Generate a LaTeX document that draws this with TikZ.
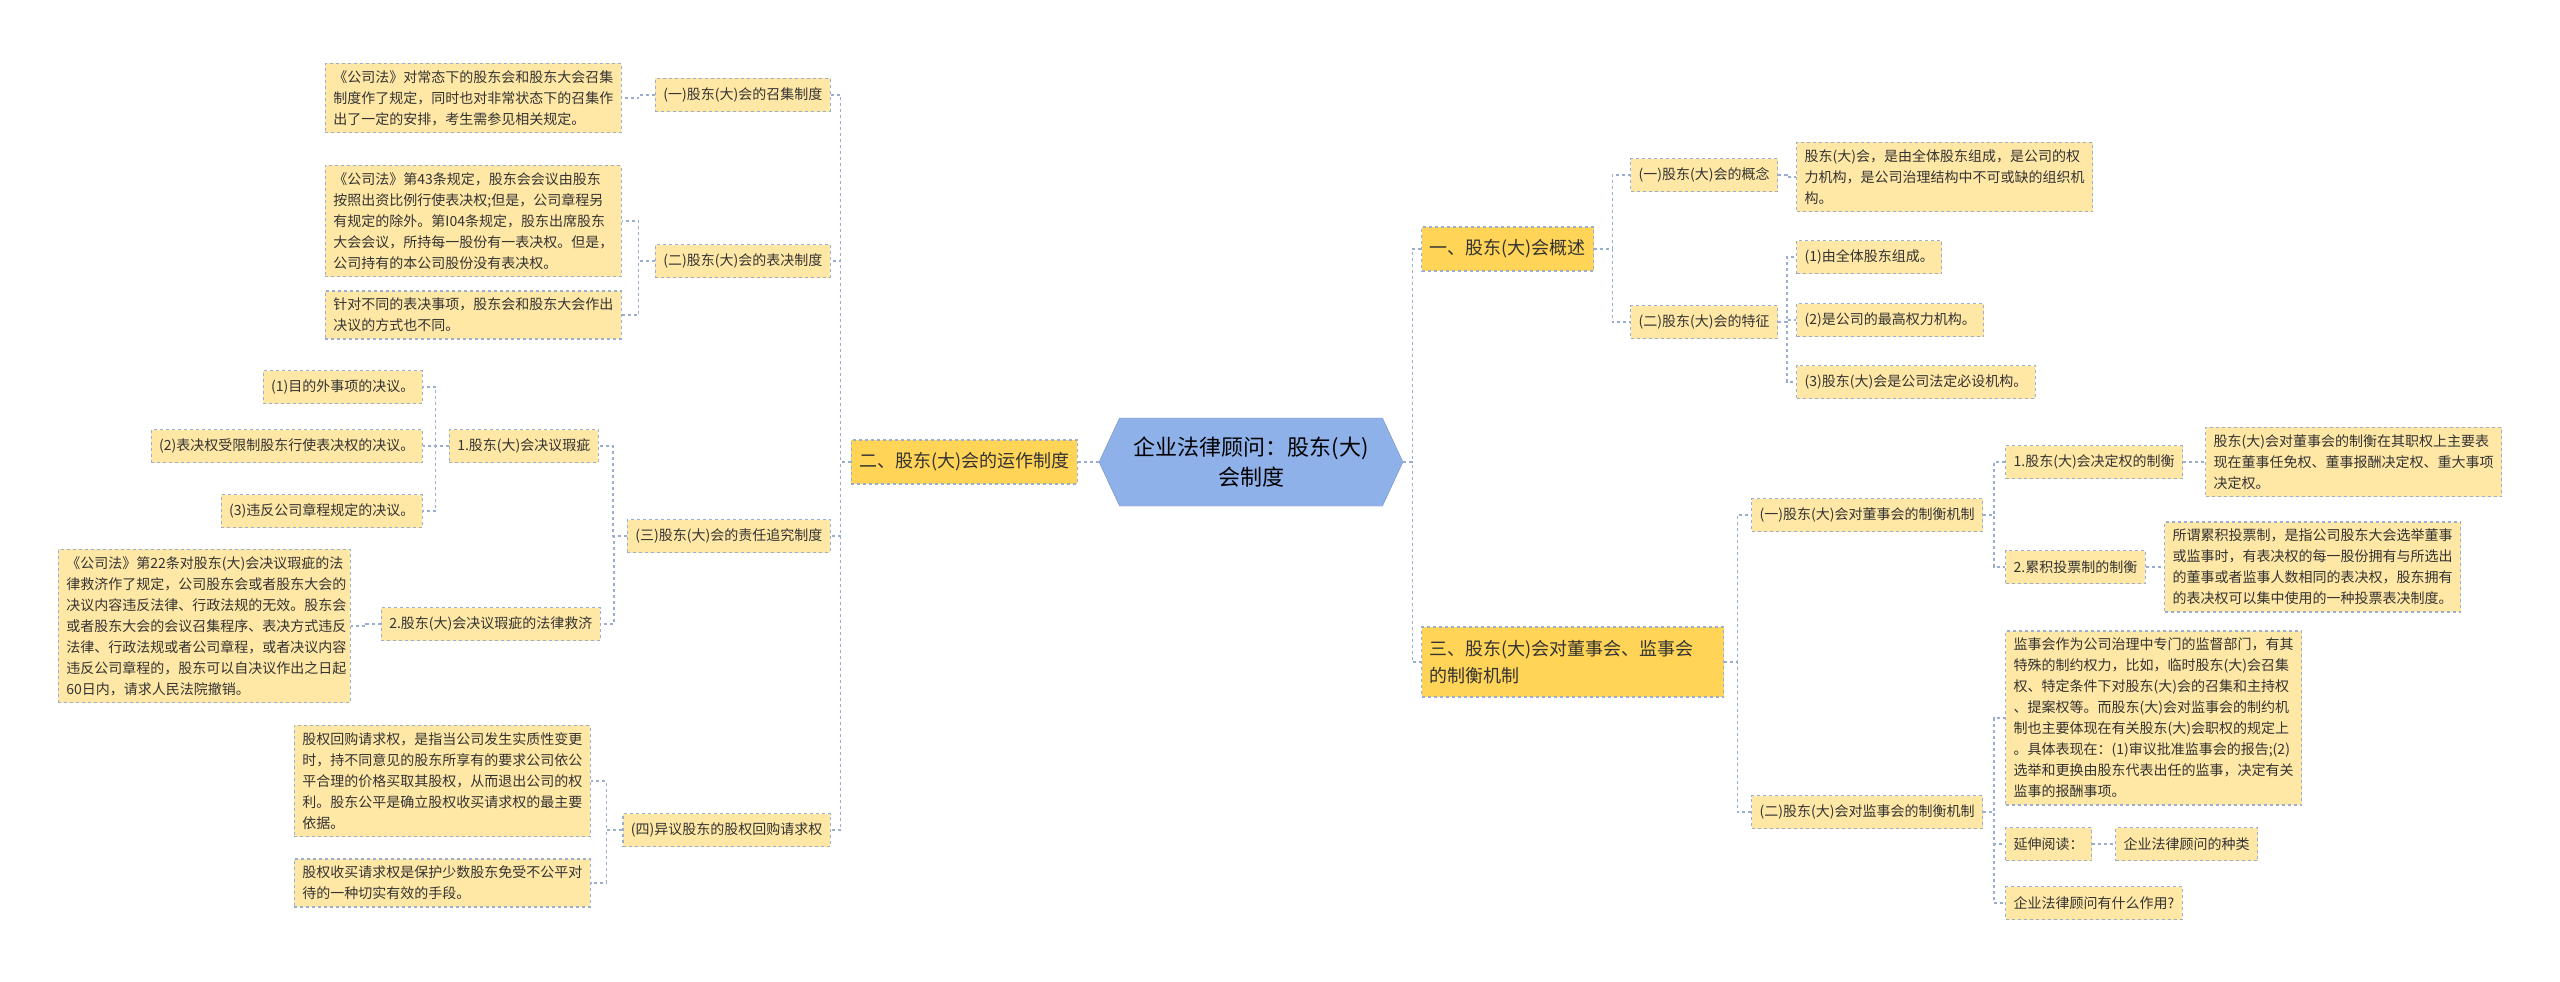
\documentclass[tikz,border=0pt]{standalone}
\usepackage{fontspec}
\setmainfont{Noto Sans CJK SC}
\usetikzlibrary{shapes.symbols,calc}

\definecolor{leafcol}{HTML}{FFE8A6}
\definecolor{topcol}{HTML}{FFD457}
\definecolor{rootcol}{HTML}{8FB1EA}
\definecolor{linecol}{HTML}{9AAECF}

\begin{document}
\begin{tikzpicture}[
    x=1pt, y=-1pt,
    base/.style={draw=linecol, dashed, line width=1.2pt, inner xsep=8pt, inner ysep=7pt, text=black!80},
    leaf/.style={base, fill=leafcol, font=\fontsize{14}{21}\selectfont, align=left, minimum height=33pt},
    topic/.style={base, fill=topcol, font=\fontsize{18}{27}\selectfont, align=left, minimum height=44pt},
    root/.style={shape=signal, signal to=west and east, signal pointer angle=130, draw=rootcol!80!black, fill=rootcol, font=\fontsize{22}{30}\selectfont, align=center, minimum width=300pt, minimum height=88pt, inner xsep=14pt},
    link/.style={draw=linecol, dashed, line width=1.2pt},
    elbow/.style={to path={-- ($(\tikztostart)!0.5!(\tikztostart -| \tikztotarget)$) |- (\tikztotarget)}}
]
    \useasboundingbox (0,0) rectangle (2560,982);

    % Root
    \node[root] (root) at (1251,462) {企业法律顾问：股东(大)\\会制度};

    % Left branch
    \node[topic, anchor=east] (ops) at (1078,462) {二、股东(大)会的运作制度};
    \node[leaf, anchor=east] (call) at (831,95) {(一)股东(大)会的召集制度};
    \node[leaf, anchor=east] (vote) at (831,261) {(二)股东(大)会的表决制度};
    \node[leaf, anchor=east] (duty) at (831,536) {(三)股东(大)会的责任追究制度};
    \node[leaf, anchor=east] (buy) at (831,830) {(四)异议股东的股权回购请求权};

    \node[leaf, anchor=east, text width=280pt] (callT) at (622,98) {《公司法》对常态下的股东会和股东大会召集\\制度作了规定，同时也对非常状态下的召集作\\出了一定的安排，考生需参见相关规定。};
    \node[leaf, anchor=east, text width=280pt] (voteA) at (622,221) {《公司法》第43条规定，股东会会议由股东\\按照出资比例行使表决权;但是，公司章程另\\有规定的除外。第I04条规定，股东出席股东\\大会会议，所持每一股份有一表决权。但是，\\公司持有的本公司股份没有表决权。};
    \node[leaf, anchor=east, text width=280pt] (voteB) at (622,315) {针对不同的表决事项，股东会和股东大会作出\\决议的方式也不同。};

    \node[leaf, anchor=east] (flaw) at (599,446) {1.股东(大)会决议瑕疵};
    \node[leaf, anchor=east] (remedy) at (601,624) {2.股东(大)会决议瑕疵的法律救济};
    \node[leaf, anchor=east] (flawA) at (423,387) {(1)目的外事项的决议。};
    \node[leaf, anchor=east] (flawB) at (423,446) {(2)表决权受限制股东行使表决权的决议。};
    \node[leaf, anchor=east] (flawC) at (423,511) {(3)违反公司章程规定的决议。};
    \node[leaf, anchor=east, text width=276pt] (remedyT) at (351,626) {《公司法》第22条对股东(大)会决议瑕疵的法\\律救济作了规定，公司股东会或者股东大会的\\决议内容违反法律、行政法规的无效。股东会\\或者股东大会的会议召集程序、表决方式违反\\法律、行政法规或者公司章程，或者决议内容\\违反公司章程的，股东可以自决议作出之日起\\60日内，请求人民法院撤销。};
    \node[leaf, anchor=east, text width=280pt] (buyA) at (591,781) {股权回购请求权，是指当公司发生实质性变更\\时，持不同意见的股东所享有的要求公司依公\\平合理的价格买取其股权，从而退出公司的权\\利。股东公平是确立股权收买请求权的最主要\\依据。};
    \node[leaf, anchor=east, text width=280pt] (buyB) at (591,883) {股权收买请求权是保护少数股东免受不公平对\\待的一种切实有效的手段。};

    % Right branch
    \node[topic, anchor=west] (intro) at (1421,249) {一、股东(大)会概述};
    \node[topic, anchor=west, text width=286pt, minimum height=70pt] (check) at (1421,662) {三、股东(大)会对董事会、监事会\\的制衡机制};

    \node[leaf, anchor=west] (concept) at (1630,175) {(一)股东(大)会的概念};
    \node[leaf, anchor=west] (trait) at (1630,322) {(二)股东(大)会的特征};
    \node[leaf, anchor=west, text width=280pt] (conceptT) at (1796,177) {股东(大)会，是由全体股东组成，是公司的权\\力机构，是公司治理结构中不可或缺的组织机\\构。};
    \node[leaf, anchor=west] (traitA) at (1796,257) {(1)由全体股东组成。};
    \node[leaf, anchor=west] (traitB) at (1796,320) {(2)是公司的最高权力机构。};
    \node[leaf, anchor=west] (traitC) at (1796,382) {(3)股东(大)会是公司法定必设机构。};

    \node[leaf, anchor=west] (board) at (1751,515) {(一)股东(大)会对董事会的制衡机制};
    \node[leaf, anchor=west] (decide) at (2005,462) {1.股东(大)会决定权的制衡};
    \node[leaf, anchor=west] (cumul) at (2005,567) {2.累积投票制的制衡};
    \node[leaf, anchor=west, text width=280pt] (decideT) at (2205,462) {股东(大)会对董事会的制衡在其职权上主要表\\现在董事任免权、董事报酬决定权、重大事项\\决定权。};
    \node[leaf, anchor=west, text width=280pt] (cumulT) at (2164,567) {所谓累积投票制，是指公司股东大会选举董事\\或监事时，有表决权的每一股份拥有与所选出\\的董事或者监事人数相同的表决权，股东拥有\\的表决权可以集中使用的一种投票表决制度。};

    \node[leaf, anchor=west] (super) at (1751,812) {(二)股东(大)会对监事会的制衡机制};
    \node[leaf, anchor=west, text width=280pt] (superT) at (2005,718) {监事会作为公司治理中专门的监督部门，有其\\特殊的制约权力，比如，临时股东(大)会召集\\权、特定条件下对股东(大)会的召集和主持权\\、提案权等。而股东(大)会对监事会的制约机\\制也主要体现在有关股东(大)会职权的规定上\\。具体表现在：(1)审议批准监事会的报告;(2)\\选举和更换由股东代表出任的监事，决定有关\\监事的报酬事项。};
    \node[leaf, anchor=west] (more) at (2005,844) {延伸阅读：};
    \node[leaf, anchor=west] (kinds) at (2115,844) {企业法律顾问的种类};
    \node[leaf, anchor=west] (role) at (2005,903) {企业法律顾问有什么作用?};

    % Connectors
    \draw[link] (root.west) to[elbow] (ops.east);
    \foreach \c in {call,vote,duty,buy} \draw[link] (ops.west) to[elbow] (\c.east);
    \draw[link] (call.west) to[elbow] (callT.east);
    \foreach \c in {voteA,voteB} \draw[link] (vote.west) to[elbow] (\c.east);
    \foreach \c in {flaw,remedy} \draw[link] (duty.west) to[elbow] (\c.east);
    \foreach \c in {flawA,flawB,flawC} \draw[link] (flaw.west) to[elbow] (\c.east);
    \draw[link] (remedy.west) to[elbow] (remedyT.east);
    \foreach \c in {buyA,buyB} \draw[link] (buy.west) to[elbow] (\c.east);

    \foreach \c in {intro,check} \draw[link] (root.east) to[elbow] (\c.west);
    \foreach \c in {concept,trait} \draw[link] (intro.east) to[elbow] (\c.west);
    \draw[link] (concept.east) to[elbow] (conceptT.west);
    \foreach \c in {traitA,traitB,traitC} \draw[link] (trait.east) to[elbow] (\c.west);
    \foreach \c in {board,super} \draw[link] (check.east) to[elbow] (\c.west);
    \foreach \c in {decide,cumul} \draw[link] (board.east) to[elbow] (\c.west);
    \draw[link] (decide.east) to[elbow] (decideT.west);
    \draw[link] (cumul.east) to[elbow] (cumulT.west);
    \foreach \c in {superT,more,role} \draw[link] (super.east) to[elbow] (\c.west);
    \draw[link] (more.east) to[elbow] (kinds.west);
\end{tikzpicture}
\end{document}
